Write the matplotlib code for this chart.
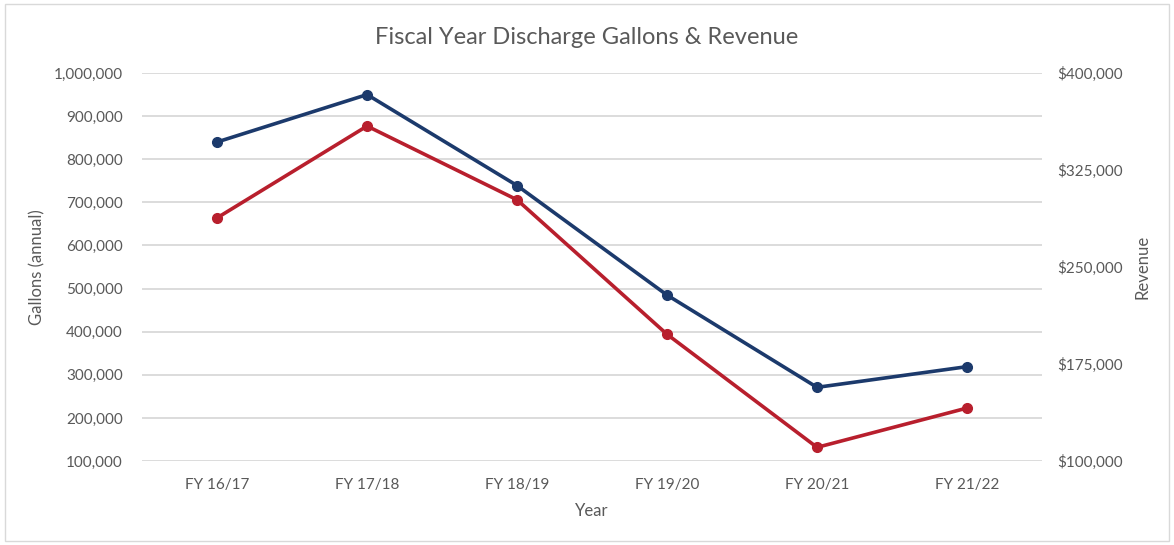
import numpy as np
import matplotlib
matplotlib.use("Agg")
import matplotlib.pyplot as plt
from matplotlib.patches import Rectangle
from matplotlib.ticker import FuncFormatter

# data
years = ["FY 16/17", "FY 17/18", "FY 18/19", "FY 19/20", "FY 20/21", "FY 21/22"]
gallons = [840000, 950000, 739000, 485000, 271000, 319000]
revenue = [288000, 359000, 302000, 198000, 110600, 141000]

gal_ticks = [100000, 200000, 300000, 400000, 500000, 600000, 700000, 800000, 900000, 1000000]
rev_ticks = [100000, 175000, 250000, 325000, 400000]

blue = "#1c3a6c"
red = "#b81f2d"
txt = "#595959"

plt.rcParams['font.family'] = ['Lato', 'DejaVu Sans']

fig = plt.figure(figsize=(11.74, 5.45), dpi=100)
fig.patches.append(Rectangle((0.004, 0.007), 0.992, 0.985, transform=fig.transFigure,
                             fill=False, edgecolor="#d9d9d9", linewidth=1))
ax = fig.add_axes([0.121, 0.154, 0.7666, 0.712])
ax2 = ax.twinx()

x = np.arange(len(years))
ax.plot(x, gallons, color=blue, lw=2.6, marker='o', ms=7, zorder=3)
ax2.plot(x, revenue, color=red, lw=2.6, marker='o', ms=7, zorder=3)

ax.set_xlim(-0.5, len(years) - 0.5)
ax.set_ylim(100000, 1000000)
ax2.set_ylim(100000, 400000)
ax.set_yticks(gal_ticks)
ax2.set_yticks(rev_ticks)
ax.set_xticks(x)
ax.set_xticklabels(years)
ax.yaxis.set_major_formatter(FuncFormatter(lambda v, p: f"{v:,.0f}"))
ax2.yaxis.set_major_formatter(FuncFormatter(lambda v, p: f"${v:,.0f}"))

ax.grid(axis='y', color="#d9d9d9", lw=1.3)
ax.set_axisbelow(True)
for a in (ax, ax2):
    for s in a.spines.values():
        s.set_visible(False)
    a.tick_params(length=0, labelsize=11, colors=txt)
ax.tick_params(axis='y', pad=14)
ax2.tick_params(axis='y', pad=11)
ax.tick_params(axis='x', pad=12)

ax.set_ylabel("Gallons (annual)", fontsize=12, color=txt, labelpad=6)
ax2.set_ylabel("Revenue", fontsize=12, color=txt, labelpad=8)
ax.set_xlabel("Year", fontsize=12, color=txt, labelpad=8)
fig.suptitle("Fiscal Year Discharge Gallons & Revenue", fontsize=17, color=txt, y=0.95)

fig.savefig("out.png", dpi=100)
